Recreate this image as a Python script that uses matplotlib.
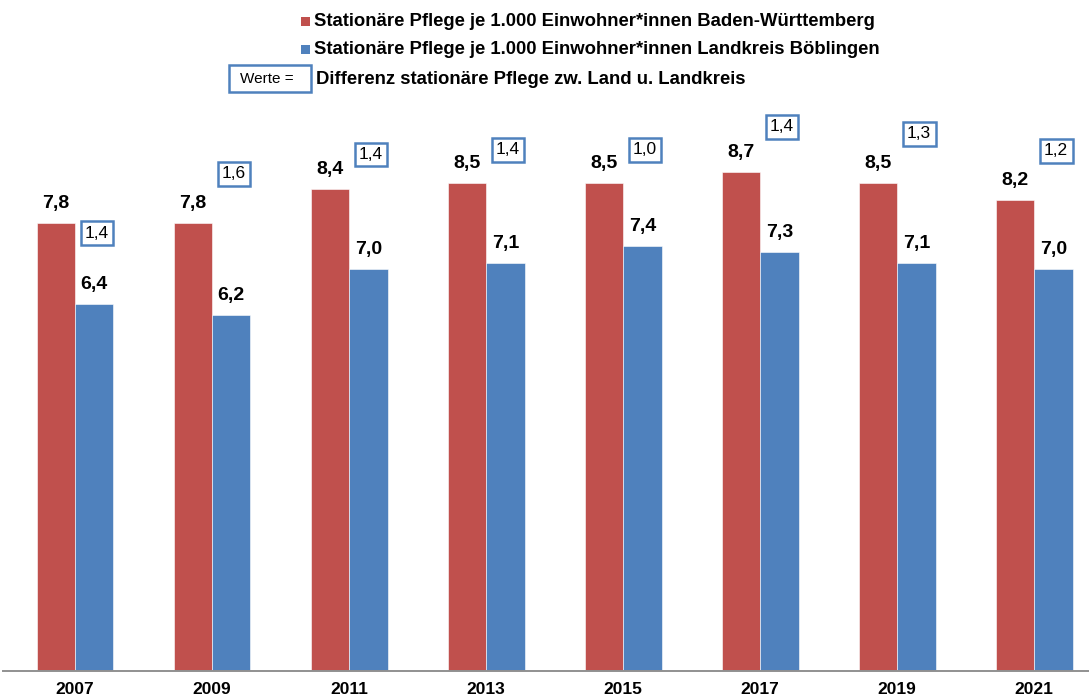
import matplotlib
matplotlib.use("Agg")
import matplotlib.pyplot as plt
from matplotlib.patches import Rectangle
import numpy as np

years = ["2007", "2009", "2011", "2013", "2015", "2017", "2019", "2021"]
bw_values = [7.8, 7.8, 8.4, 8.5, 8.5, 8.7, 8.5, 8.2]
bb_values = [6.4, 6.2, 7.0, 7.1, 7.4, 7.3, 7.1, 7.0]
diff_values = [1.4, 1.6, 1.4, 1.4, 1.0, 1.4, 1.3, 1.2]
# vertical placement of the difference boxes (data units)
diff_label_y = [7.63, 8.66, 9.0, 9.08, 9.08, 9.48, 9.36, 9.06]

legend_labels = [
    "Stationäre Pflege je 1.000 Einwohner*innen Baden-Württemberg",
    "Stationäre Pflege je 1.000 Einwohner*innen Landkreis Böblingen",
    "Differenz stationäre Pflege zw. Land u. Landkreis",
]

RED = "#c0504d"
BLUE = "#4f81bd"
plt.rcParams['font.family'] = ['Liberation Sans', 'DejaVu Sans']

def fmt(v):
    return f"{v:.1f}".replace(".", ",")

fig = plt.figure(figsize=(10.89, 7.0), dpi=100)
ax = fig.add_axes([0.0028, 0.0414, 0.9972, 0.9586])

x = np.arange(len(years))
w = 0.28
ax.bar(x - w / 2, bw_values, w, color=RED, edgecolor="white", linewidth=0.4)
ax.bar(x + w / 2, bb_values, w, color=BLUE, edgecolor="white", linewidth=0.4)

for xi, v in zip(x, bw_values):
    ax.annotate(fmt(v), (xi - w / 2, v), xytext=(0, 8), textcoords="offset points",
                ha="center", va="bottom", fontsize=14, fontweight="bold")
for xi, v in zip(x, bb_values):
    ax.annotate(fmt(v), (xi + w / 2, v), xytext=(0, 8), textcoords="offset points",
                ha="center", va="bottom", fontsize=14, fontweight="bold")
for xi, d, yy in zip(x, diff_values, diff_label_y):
    ax.text(xi + w / 2 + 0.02, yy, fmt(d), ha="center", va="center", fontsize=12.5,
            bbox=dict(boxstyle="square,pad=0.25", facecolor="white", edgecolor=BLUE, linewidth=1.8))

ax.set_xlim(-0.526, 7.40)
ax.set_ylim(0, 11.69)
for s in ["top", "right", "left"]:
    ax.spines[s].set_visible(False)
ax.spines["bottom"].set_color("#909090")
ax.spines["bottom"].set_linewidth(1.4)
ax.set_yticks([])
ax.set_xticks(x)
ax.set_xticklabels(years, fontsize=12.5, fontweight="bold")
ax.tick_params(axis="x", length=0, pad=8)

# legend (custom, in figure coordinates)
def fy(py):
    return 1 - py / 700
def fx(px):
    return px / 1089

fig.patches.append(Rectangle((fx(301), fy(26)), 9 / 1089, 9 / 700, transform=fig.transFigure,
                             facecolor=RED, edgecolor="none"))
fig.text(fx(314), fy(22), legend_labels[0], fontsize=13.3, fontweight="bold", va="center", ha="left")
fig.patches.append(Rectangle((fx(301), fy(54)), 9 / 1089, 9 / 700, transform=fig.transFigure,
                             facecolor=BLUE, edgecolor="none"))
fig.text(fx(314), fy(50), legend_labels[1], fontsize=13.3, fontweight="bold", va="center", ha="left")
fig.patches.append(Rectangle((fx(229), fy(92)), 82 / 1089, 27 / 700, transform=fig.transFigure,
                             facecolor="white", edgecolor=BLUE, linewidth=1.8))
fig.text(fx(267), fy(79), "Werte =", fontsize=11, va="center", ha="center")
fig.text(fx(316), fy(79), legend_labels[2], fontsize=13.3, fontweight="bold", va="center", ha="left")

fig.savefig("out.png", dpi=100, facecolor="white")
